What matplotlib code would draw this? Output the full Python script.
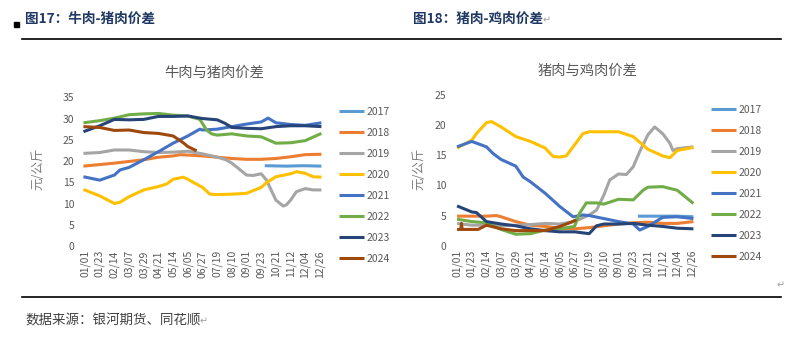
import matplotlib
matplotlib.use('Agg')
import matplotlib.pyplot as plt
from matplotlib.lines import Line2D
from matplotlib.patches import Rectangle

plt.rcParams['font.family'] = ['Noto Sans CJK SC', 'DejaVu Sans']

# category labels on x axis (shared)
date_labels = ['01/01', '01/23', '02/14', '03/07', '03/29', '04/21', '05/14', '06/05', '06/27',
               '07/19', '08/10', '09/01', '09/23', '10/21', '11/12', '12/04', '12/26']
years = ['2017', '2018', '2019', '2020', '2021', '2022', '2023', '2024']
colors = ['#5B9BD5', '#ED7D31', '#A5A5A5', '#FFC000', '#4472C4', '#70AD47', '#264478', '#9E480E']

# ---- left chart: beef - pork spread (position in tick units, value)
beef_2017_x = [12.24, 13.72, 14.85, 16.1]
beef_2017_y = [18.9, 18.8, 18.9, 18.8]
beef_2018_x = [-0.11, 2, 4, 5, 6, 6.46, 7, 8, 9, 10, 11, 12, 13, 14, 15, 16.1]
beef_2018_y = [18.8, 19.5, 20.3, 20.9, 21.2, 21.5, 21.4, 21.2, 20.9, 20.6, 20.4, 20.4, 20.6, 21.0, 21.5, 21.6]
beef_2019_x = [-0.11, 1, 2, 3, 4, 5, 6, 7, 8, 9, 9.6, 10, 11, 11.45, 12, 12.36, 13, 13.5, 13.72, 14, 14.4, 15, 15.53, 16.1]
beef_2019_y = [21.8, 22.0, 22.6, 22.6, 22.2, 22.0, 22.1, 22.3, 21.7, 20.9, 20.3, 19.5, 16.7, 16.6, 17.0, 15.5, 10.8, 9.4, 9.7, 10.8, 12.8, 13.5, 13.2, 13.2]
beef_2020_x = [-0.11, 1, 2, 2.38, 3, 4, 5, 5.56, 6, 6.69, 7, 8, 8.5, 9, 10, 11, 12, 12.36, 13, 14, 14.4, 15, 15.53, 16.1]
beef_2020_y = [13.3, 11.8, 10.0, 10.3, 11.6, 13.2, 14.0, 14.6, 15.7, 16.2, 15.7, 13.8, 12.2, 12.1, 12.2, 12.4, 13.8, 14.9, 16.3, 17.0, 17.5, 17.1, 16.3, 16.2]
beef_2021_x = [-0.11, 1, 2, 2.38, 3, 4, 5, 6, 7, 7.82, 8, 9, 10, 11, 12, 12.47, 13, 14, 15, 16.1]
beef_2021_y = [16.3, 15.5, 16.7, 17.9, 18.5, 20.3, 22.2, 24.2, 25.9, 27.5, 27.3, 27.5, 28.1, 28.7, 29.2, 30.1, 29.0, 28.6, 28.4, 29.0]
beef_2022_x = [-0.11, 1, 2, 3, 4, 5, 6, 7, 7.82, 8.28, 8.62, 9, 10, 11, 12, 13, 14, 15, 16.1]
beef_2022_y = [29.0, 29.5, 30.1, 30.9, 31.1, 31.2, 30.8, 30.6, 29.8, 27.3, 26.4, 26.1, 26.4, 25.9, 25.7, 24.2, 24.3, 24.8, 26.5]
beef_2023_x = [-0.11, 1, 2, 3, 4, 5, 6, 7, 8, 9, 9.52, 10, 11, 12, 13, 14, 15, 16.1]
beef_2023_y = [26.9, 28.3, 29.8, 29.7, 29.8, 30.5, 30.5, 30.6, 30.0, 29.7, 28.9, 27.9, 27.7, 27.6, 28.1, 28.3, 28.3, 28.1]
beef_2024_x = [-0.11, 1, 2, 3, 4, 5, 6, 6.69, 7, 7.6]
beef_2024_y = [28.1, 27.9, 27.2, 27.3, 26.7, 26.5, 25.9, 24.3, 23.4, 22.4]

# ---- right chart: pork - chicken spread
pork_2017_x = [12.32, 14, 15, 16.1]
pork_2017_y = [4.9, 4.9, 4.9, 4.8]
pork_2018_x = [0, 1, 2, 2.68, 3, 4, 5, 6, 7, 8, 9, 10, 11, 12, 13, 14, 15, 16.1]
pork_2018_y = [4.9, 4.9, 4.9, 5.0, 4.8, 4.0, 3.4, 3.2, 2.9, 2.8, 3.0, 3.3, 3.6, 3.8, 3.9, 3.7, 3.7, 4.0]
pork_2019_x = [0, 1, 2, 3, 4, 5, 6, 7, 8, 9, 9.5, 10, 10.4, 11, 11.53, 12, 12.44, 13, 13.46, 14, 14.5, 14.7, 15, 16.1]
pork_2019_y = [3.7, 3.4, 3.4, 3.3, 3.4, 3.5, 3.7, 3.6, 4.0, 5.1, 5.9, 8.4, 10.9, 11.9, 11.8, 13.1, 15.6, 18.4, 19.7, 18.6, 17.0, 15.8, 16.1, 16.4]
pork_2020_x = [0, 1, 1.32, 2, 2.34, 3, 4, 5, 6, 6.54, 7, 7.44, 8, 8.58, 9, 10, 11, 12, 13, 14, 14.5, 15, 16.1]
pork_2020_y = [16.2, 17.5, 18.6, 20.4, 20.6, 19.7, 18.1, 17.3, 16.2, 14.8, 14.7, 14.9, 16.7, 18.6, 18.9, 18.9, 18.9, 18.1, 16.0, 14.9, 14.6, 15.8, 16.3]
pork_2021_x = [0, 1, 2, 2.45, 3, 4, 4.5, 5, 6, 7, 7.9, 8.58, 9, 10, 11, 12, 12.44, 13, 14, 15, 16.1]
pork_2021_y = [16.4, 17.3, 16.4, 15.3, 14.3, 13.2, 11.4, 10.6, 8.7, 6.5, 4.8, 5.1, 5.0, 4.5, 4.0, 3.6, 2.6, 3.2, 4.7, 4.8, 4.5]
pork_2022_x = [0, 1, 2, 3, 4, 5, 6, 7, 8, 8.35, 8.8, 9.5, 10, 11, 12, 12.67, 13, 14, 15, 16.1]
pork_2022_y = [4.4, 4.0, 3.8, 2.7, 1.9, 2.0, 2.6, 2.8, 3.2, 5.4, 7.1, 7.1, 6.9, 7.7, 7.6, 9.2, 9.7, 9.8, 9.2, 7.0]
pork_2023_x = [0, 1, 1.32, 2, 3, 4, 5, 6, 7, 8, 9, 9.5, 10, 11, 12, 13, 14, 15, 16.1]
pork_2023_y = [6.6, 5.6, 5.5, 4.0, 3.6, 3.3, 2.8, 2.5, 2.3, 2.3, 2.0, 3.3, 3.6, 3.6, 3.7, 3.4, 3.2, 2.9, 2.8]
pork_2024_x = [0, 0.25, 0.3, 0.35, 1, 1.43, 2, 3, 4, 5, 6, 7, 7.67, 8.13]
pork_2024_y = [2.7, 2.7, 3.7, 2.7, 2.7, 2.7, 3.4, 2.8, 2.5, 2.5, 2.5, 3.2, 3.8, 4.3]

beef_series = [(beef_2017_x, beef_2017_y), (beef_2018_x, beef_2018_y), (beef_2019_x, beef_2019_y),
               (beef_2020_x, beef_2020_y), (beef_2021_x, beef_2021_y), (beef_2022_x, beef_2022_y),
               (beef_2023_x, beef_2023_y), (beef_2024_x, beef_2024_y)]
pork_series = [(pork_2017_x, pork_2017_y), (pork_2018_x, pork_2018_y), (pork_2019_x, pork_2019_y),
               (pork_2020_x, pork_2020_y), (pork_2021_x, pork_2021_y), (pork_2022_x, pork_2022_y),
               (pork_2023_x, pork_2023_y), (pork_2024_x, pork_2024_y)]

W, H = 800, 337
fig = plt.figure(figsize=(8, 3.37), dpi=100)


def fx(px):
    return px / W


def fy(py):
    return 1 - py / H


def draw_panel(rect, series, ymax, title, title_xy, ylabel_x, leg_xy):
    ax = fig.add_axes(rect)
    for (xs, ys), c, yr in zip(series, colors, years):
        ax.plot(xs, ys, color=c, lw=2.2, label=yr, solid_capstyle='butt')
    ax.set_xlim(-0.14, 16.14)
    ax.set_ylim(0, ymax)
    ax.set_yticks(range(0, ymax + 1, 5))
    ax.set_xticks(range(len(date_labels)))
    ax.set_xticklabels(date_labels, rotation=90, fontsize=7.5, color='#595959')
    ax.tick_params(axis='y', labelsize=7.5, labelcolor='#595959', length=0, pad=6)
    ax.tick_params(axis='x', length=0, pad=3)
    for s in ax.spines.values():
        s.set_visible(False)
    ax.set_ylabel('元/公斤', fontsize=9, color='#7F7F7F')
    ax.yaxis.set_label_coords(ylabel_x, 0.5, transform=fig.transFigure)
    fig.text(fx(title_xy[0]), fy(title_xy[1]), title, fontsize=10.3, color='#595959',
             ha='center', va='center')
    ax.legend(loc='upper left', bbox_to_anchor=(fx(leg_xy[0]), fy(leg_xy[1])),
              bbox_transform=fig.transFigure, frameon=False, fontsize=7.5,
              labelcolor='#595959', handlelength=2.4, handletextpad=0.2,
              labelspacing=1.05, borderaxespad=0, borderpad=0)
    return ax


draw_panel([fx(83), fy(246), fx(322) - fx(83), fy(97.3) - fy(246)], beef_series, 35,
           '牛肉与猪肉价差', (214, 73), fx(44), (339, 107))
draw_panel([fx(455), fy(245.7), fx(694) - fx(455), fy(95) - fy(245.7)], pork_series, 25,
           '猪肉与鸡肉价差', (588, 71), fx(425), (711, 105))

# header, rules and source note
fig.patches.append(Rectangle((fx(14), fy(27)), fx(5), 5 / H, color='black', transform=fig.transFigure))
fig.text(fx(25), fy(19), '图17：牛肉-猪肉价差', fontsize=9.8, fontweight='bold', color='#1F3864',
         ha='left', va='center')
fig.text(fx(413), fy(19), '图18：猪肉-鸡肉价差', fontsize=9.8, fontweight='bold', color='#1F3864',
         ha='left', va='center')
fig.text(fx(543), fy(20), '↵', fontsize=7, color='#A0A0A0', ha='left', va='center')
fig.lines.append(Line2D([fx(22), fx(781)], [fy(39), fy(39)], color='black', lw=1.2, transform=fig.transFigure))
fig.lines.append(Line2D([fx(22), fx(781)], [fy(297), fy(297)], color='black', lw=1.2, transform=fig.transFigure))
fig.text(fx(777), fy(285), '↵', fontsize=7, color='#A0A0A0', ha='left', va='center')
fig.text(fx(25), fy(321), '数据来源：银河期货、同花顺', fontsize=9.7, color='#404040', ha='left', va='center')
fig.text(fx(200), fy(321), '↵', fontsize=7, color='#A0A0A0', ha='left', va='center')

fig.savefig('out.png', dpi=100)
